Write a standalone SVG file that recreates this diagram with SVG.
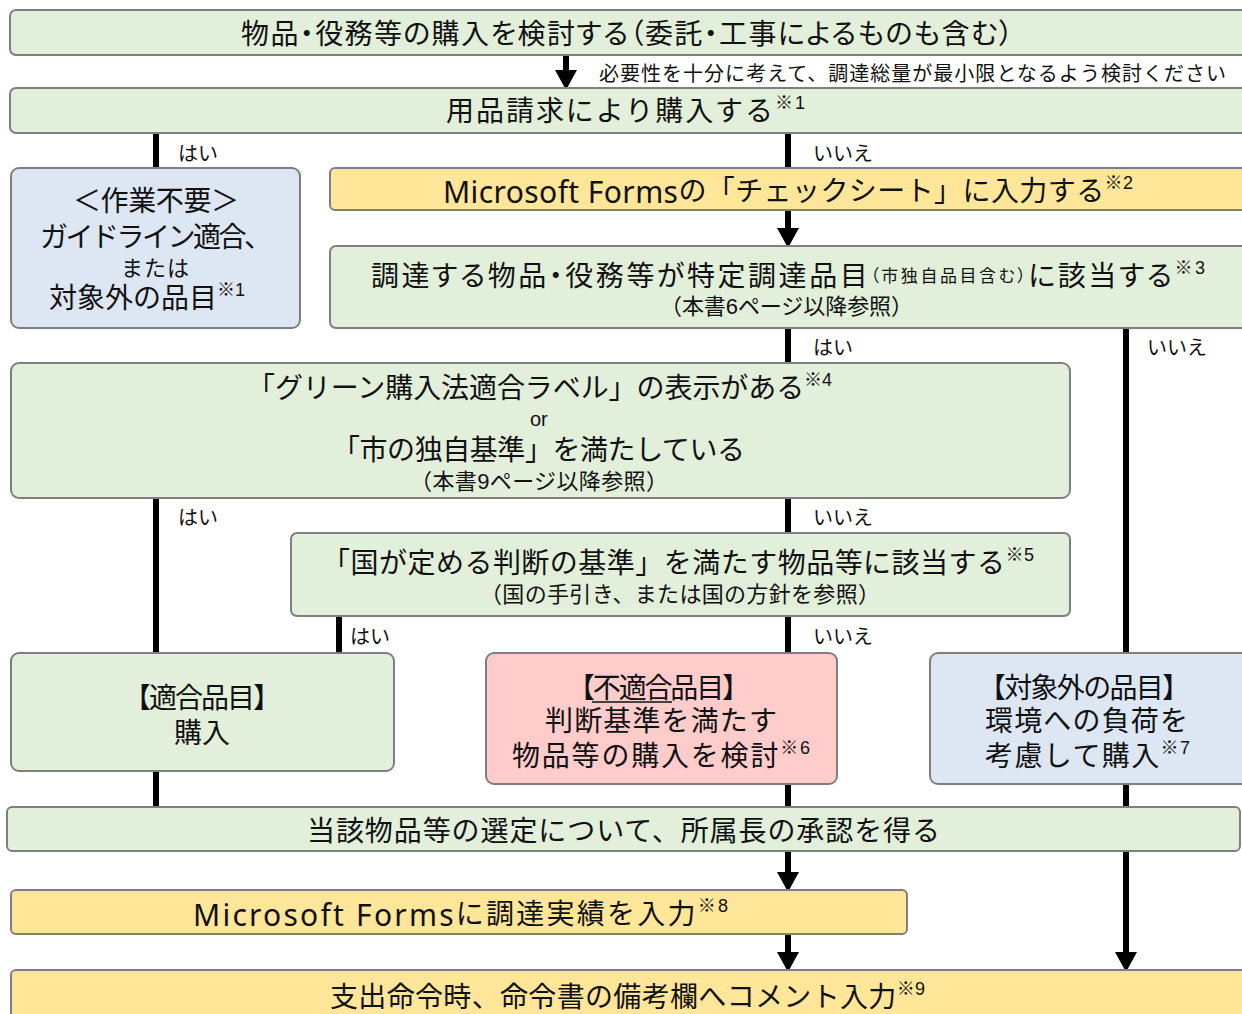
<svg xmlns="http://www.w3.org/2000/svg" width="1242" height="1014" viewBox="0 0 1242 1014">
<style>
text{font-family:"Liberation Sans","Noto Sans CJK JP",sans-serif;fill:#111;dominant-baseline:central}
.g{fill:#e2efda;stroke:#7f7f7f;stroke-width:2}
.y{fill:#ffe699;stroke:#7f7f7f;stroke-width:2}
.b{fill:#dde7f3;stroke:#7f7f7f;stroke-width:2}
.p{fill:#ffcccc;stroke:#7f7f7f;stroke-width:2}
.m{font-size:28px}
.s{font-size:22px}
.l{font-size:20px}
.sup{font-size:18px}
.lat{font-size:30px;font-family:"Noto Sans","Liberation Sans",sans-serif}
.palt{font-feature-settings:"palt"}
.c{stroke:#000;stroke-width:6;fill:none}
.a{stroke:#000;stroke-width:6;fill:none;marker-end:url(#ah)}
.u{stroke:#111;stroke-width:1.5}
</style>
<defs>
<marker id="ah" markerUnits="userSpaceOnUse" markerWidth="20" markerHeight="22" viewBox="0 0 20 22" refX="0" refY="11" orient="auto">
<path d="M0,0 L20,11 L0,22 z" fill="#000"/>
</marker>
</defs>
<g id="connectors">
<line class="a" x1="566" y1="55" x2="566" y2="70"/>
<line class="c" x1="156" y1="133" x2="156" y2="168"/>
<line class="c" x1="788" y1="133" x2="788" y2="168"/>
<line class="a" x1="788" y1="210" x2="788" y2="228"/>
<line class="c" x1="788" y1="328" x2="788" y2="363"/>
<line class="c" x1="1126" y1="328" x2="1126" y2="653"/>
<line class="c" x1="156" y1="498" x2="156" y2="653"/>
<line class="c" x1="788" y1="498" x2="788" y2="533"/>
<line class="c" x1="339" y1="616" x2="339" y2="653"/>
<line class="c" x1="788" y1="616" x2="788" y2="653"/>
<line class="c" x1="156" y1="771" x2="156" y2="807"/>
<line class="c" x1="788" y1="784" x2="788" y2="807"/>
<line class="a" x1="1126" y1="784" x2="1126" y2="952"/>
<line class="a" x1="788" y1="851" x2="788" y2="872"/>
<line class="a" x1="788" y1="934" x2="788" y2="952"/>
<text class="l" x="599" y="74" textLength="627">必要性を十分に考えて、調達総量が最小限となるよう検討ください</text>
<text class="l" x="178" y="154">はい</text>
<text class="l" x="813" y="154">いいえ</text>
<text class="l" x="813" y="348">はい</text>
<text class="l" x="1147" y="348">いいえ</text>
<text class="l" x="178" y="518">はい</text>
<text class="l" x="813" y="518">いいえ</text>
<text class="l" x="350" y="637">はい</text>
<text class="l" x="813" y="637">いいえ</text>
</g>
<g id="n1">
<rect class="g" x="10" y="10" width="1245" height="45" rx="6"/>
<text class="m palt" x="241" y="34" textLength="772">物品・役務等の購入を検討する（委託・工事によるものも含む）</text>
</g>
<g id="n2">
<rect class="g" x="10" y="88" width="1245" height="45" rx="6"/>
<text class="m" x="446" y="111" textLength="359">用品請求により購入する<tspan class="sup" dy="-8">※1</tspan></text>
</g>
<g id="n3">
<rect class="b" x="11" y="168" width="289" height="160" rx="8"/>
<text class="m"><tspan x="73" y="201" textLength="166">＜作業不要＞</tspan><tspan x="40" y="237" textLength="232">ガイドライン適合、</tspan><tspan class="s" x="121" y="268" textLength="68">または</tspan><tspan x="49" y="298">対象外の品目<tspan class="sup" dy="-8">※1</tspan></tspan></text>
</g>
<g id="n4">
<rect class="y" x="330" y="168" width="925" height="42" rx="5"/>
<text class="m" x="443" y="191" textLength="690"><tspan class="lat">Microsoft Forms</tspan>の「チェックシート」に入力する<tspan class="sup" dy="-8">※2</tspan></text>
</g>
<g id="n5">
<rect class="g" x="330" y="246" width="925" height="82" rx="6"/>
<text class="m"><tspan class="palt" x="371" y="276" textLength="834">調達する物品・役務等が特定調達品目<tspan font-size="17px">（市独自品目含む）</tspan>に該当する<tspan class="sup" dy="-8">※3</tspan></tspan><tspan class="s" x="660" y="306" textLength="253">（本書6ページ以降参照）</tspan></text>
</g>
<g id="n6">
<rect class="g" x="11" y="363" width="1059" height="135" rx="8"/>
<text class="m"><tspan x="247" y="388" textLength="585">「グリーン購入法適合ラベル」の表示がある<tspan class="sup" dy="-8">※4</tspan></tspan><tspan class="l" x="530" y="419">or</tspan><tspan x="332" y="450" textLength="413">「市の独自基準」を満たしている</tspan><tspan class="s" x="410" y="481" textLength="258">（本書9ページ以降参照）</tspan></text>
</g>
<g id="n7">
<rect class="g" x="291" y="533" width="779" height="83" rx="6"/>
<text class="m"><tspan x="322" y="563" textLength="712">「国が定める判断の基準」を満たす物品等に該当する<tspan class="sup" dy="-8">※5</tspan></tspan><tspan class="s" x="480" y="594" textLength="400">（国の手引き、または国の方針を参照）</tspan></text>
</g>
<g id="n8">
<rect class="g" x="11" y="653" width="383" height="118" rx="8"/>
<text class="m"><tspan x="123" y="698" textLength="158">【適合品目】</tspan><tspan x="174" y="733">購入</tspan></text>
</g>
<g id="n9">
<rect class="p" x="486" y="653" width="351" height="131" rx="8"/>
<text class="m"><tspan x="567" y="688" textLength="183">【不適合品目】</tspan><tspan x="545" y="721" textLength="232">判断基準を満たす</tspan><tspan x="512" y="756" textLength="298">物品等の購入を検討<tspan class="sup" dy="-8">※6</tspan></tspan></text>
<line class="u" x1="592" y1="702" x2="672" y2="702"/>
</g>
<g id="n10">
<rect class="b" x="930" y="653" width="325" height="131" rx="8"/>
<text class="m"><tspan x="978" y="688" textLength="212">【対象外の品目】</tspan><tspan x="985" y="721" textLength="203">環境への負荷を</tspan><tspan x="985" y="756" textLength="205">考慮して購入<tspan class="sup" dy="-8">※7</tspan></tspan></text>
</g>
<g id="n11">
<rect class="g" x="7" y="807" width="1233" height="44" rx="5"/>
<text class="m" x="307" y="831" textLength="633">当該物品等の選定について、所属長の承認を得る</text>
</g>
<g id="n12">
<rect class="y" x="11" y="890" width="896" height="44" rx="5"/>
<text class="m" x="193" y="914" textLength="535"><tspan class="lat">Microsoft Forms</tspan>に調達実績を入力<tspan class="sup" dy="-8">※8</tspan></text>
</g>
<g id="n13">
<rect class="y" x="11" y="970" width="1245" height="55" rx="5"/>
<text class="m" x="330" y="997" textLength="595">支出命令時、命令書の備考欄へコメント入力<tspan class="sup" dy="-8">※9</tspan></text>
</g>
</svg>
